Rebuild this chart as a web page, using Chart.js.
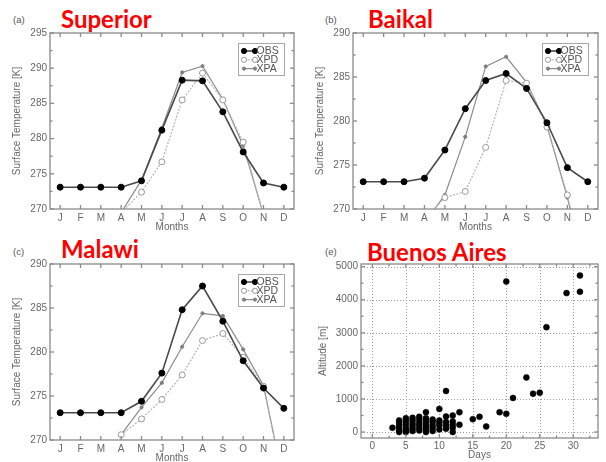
<!DOCTYPE html>
<html>
<head>
<meta charset="utf-8">
<script src="https://cdn.jsdelivr.net/npm/chart.js@4.4.1/dist/chart.umd.min.js"></script>
<style>
  html, body { margin: 0; padding: 0; background: #fff; }
  body { width: 606px; height: 462px; position: relative; overflow: hidden; }
  canvas { position: absolute; }
  .tag { position: absolute; font: 9.5px "Liberation Sans", Arial, sans-serif; color: #555; }
  .name { position: absolute; font: bold 24px Lato, "Open Sans", sans-serif; color: #f00; line-height: 24px; white-space: nowrap; }
</style>
</head>
<body>
<div class="tag" style="left:13px;top:14px">(a)</div>
<div class="tag" style="left:325px;top:14px">(b)</div>
<div class="tag" style="left:13px;top:246px">(c)</div>
<div class="tag" style="left:325px;top:246px">(e)</div>
<div class="name" style="left:61px;top:7px">Superior</div>
<div class="name" style="left:368px;top:7px">Baikal</div>
<div class="name" style="left:61px;top:237px">Malawi</div>
<div class="name" style="left:367px;top:240px">Buenos Aires</div>

<canvas id="cSup" width="303" height="233" style="left:0;top:0"></canvas>
<canvas id="cBai" width="303" height="233" style="left:303px;top:0"></canvas>
<canvas id="cMal" width="303" height="233" style="left:0;top:231px"></canvas>
<canvas id="cBA" width="303" height="231" style="left:303px;top:231px"></canvas>

<script>
// Month initials along the x axis
const months = ['J', 'F', 'M', 'A', 'M', 'J', 'J', 'A', 'S', 'O', 'N', 'D'];

// Monthly surface temperature [K]; null = below the plotted range
const superiorObs = [273.1, 273.1, 273.1, 273.1, 274.0, 281.2, 288.3, 288.2, 283.8, 278.1, 273.7, 273.1];
const superiorXpd = [null, null, null, 269.5, 272.4, 276.7, 285.5, 289.3, 285.5, 279.5, 269.2, null];
const superiorXpa = [null, null, null, 269.5, 274.1, 281.5, 289.4, 290.3, 285.6, 279.0, 269.2, null];

const baikalObs = [273.1, 273.1, 273.1, 273.5, 276.7, 281.4, 284.6, 285.4, 283.7, 279.8, 274.7, 273.1];
const baikalXpd = [null, null, null, 268.8, 271.3, 272.0, 277.0, 284.6, 284.3, 279.3, 271.6, 262.0];
const baikalXpa = [null, null, null, 268.4, 271.6, 278.2, 286.2, 287.3, 284.4, 279.5, 271.3, 262.0];

const malawiObs = [273.1, 273.1, 273.1, 273.1, 274.4, 277.6, 284.8, 287.5, 283.5, 279.0, 275.9, 273.6];
const malawiXpd = [null, null, null, 270.6, 272.4, 274.6, 277.4, 281.3, 282.1, 279.4, 276.1, 265.0];
const malawiXpa = [null, null, null, 270.6, 273.7, 276.5, 280.6, 284.4, 284.1, 280.3, 276.2, 265.0];

// Buenos Aires: day of observation and altitude [m]
const baDays = [3,
  4, 4, 4, 4, 4, 4,
  5, 5, 5, 5, 5, 5,
  6, 6, 6, 6, 6, 6,
  7, 7, 7, 7, 7, 7,
  8, 8, 8, 8, 8, 8, 8,
  9, 9, 9, 9, 9,
  10, 10, 10, 10, 10,
  11, 11, 11, 11, 11,
  12, 12, 12, 12, 12,
  13, 13, 15, 16, 17, 19, 20, 20, 21, 23, 24, 25, 26, 29, 31, 31];
const baAltitudes = [130,
  0, 60, 130, 200, 280, 350,
  0, 50, 120, 230, 330, 420,
  30, 100, 180, 260, 350, 430,
  50, 120, 200, 280, 380, 460,
  0, 80, 150, 240, 330, 420, 600,
  30, 120, 200, 300, 380,
  80, 200, 280, 350, 700,
  100, 200, 300, 470, 1240,
  0, 130, 220, 320, 500,
  220, 600, 390, 460, 170, 600, 550, 4550, 1030, 1650, 1160, 1190, 3170, 4200, 4240, 4730];

// Axis tick values
const tempTicksSup = [270, 275, 280, 285, 290, 295];
const tempTicks = [270, 275, 280, 285, 290];
const dayTicks = [0, 5, 10, 15, 20, 25, 30];
const altTicks = [0, 1000, 2000, 3000, 4000, 5000];

const TXT = '#666';
const FONT = '"Liberation Sans", Arial, sans-serif';

// Boxed frame with inward tick marks, optional dotted grid
const framePlugin = {
  id: 'frame',
  beforeDatasetsDraw(chart, args, o) {
    if (!o.grid) return;
    const { ctx, chartArea: a, scales: { x, y } } = chart;
    ctx.save();
    ctx.strokeStyle = '#9c9c9c';
    ctx.lineWidth = 1;
    ctx.setLineDash([1, 2]);
    x.ticks.forEach(t => {
      const px = Math.round(x.getPixelForValue(t.value)) + 0.5;
      ctx.beginPath(); ctx.moveTo(px, a.top); ctx.lineTo(px, a.bottom); ctx.stroke();
    });
    y.ticks.forEach(t => {
      const py = Math.round(y.getPixelForValue(t.value)) + 0.5;
      ctx.beginPath(); ctx.moveTo(a.left, py); ctx.lineTo(a.right, py); ctx.stroke();
    });
    ctx.restore();
  },
  afterDraw(chart, args, o) {
    const { ctx, chartArea: a, scales: { x, y } } = chart;
    ctx.save();
    ctx.strokeStyle = '#8a8a8a';
    ctx.lineWidth = 1.3;
    const seg = (x1, y1, x2, y2) => { ctx.beginPath(); ctx.moveTo(x1, y1); ctx.lineTo(x2, y2); ctx.stroke(); };
    // x ticks
    const xMaj = x.ticks.map(t => t.value);
    xMaj.forEach(v => {
      const px = x.getPixelForValue(v);
      seg(px, a.bottom, px, a.bottom - 4);
      seg(px, a.top, px, a.top + 4);
    });
    if (o.xMinor) {
      for (let v = Math.ceil(x.min / o.xMinor) * o.xMinor; v <= x.max; v += o.xMinor) {
        if (xMaj.includes(v)) continue;
        const px = x.getPixelForValue(v);
        seg(px, a.bottom, px, a.bottom - 2.5);
        seg(px, a.top, px, a.top + 2.5);
      }
    }
    // y ticks
    const yMaj = y.ticks.map(t => t.value);
    yMaj.forEach(v => {
      const py = y.getPixelForValue(v);
      seg(a.left, py, a.left + 4, py);
      seg(a.right, py, a.right - 4, py);
    });
    if (o.yMinor) {
      for (let v = Math.ceil(y.min / o.yMinor) * o.yMinor; v <= y.max; v += o.yMinor) {
        if (yMaj.includes(v)) continue;
        const py = y.getPixelForValue(v);
        seg(a.left, py, a.left + 2.5, py);
        seg(a.right, py, a.right - 2.5, py);
      }
    }
    ctx.strokeRect(a.left, a.top, a.right - a.left, a.bottom - a.top);
    ctx.restore();
  }
};

// Small boxed key in the upper right of the plot
const keyPlugin = {
  id: 'keyBox',
  afterDraw(chart, args, o) {
    if (!o.show) return;
    const { ctx, chartArea: a } = chart;
    const w = 46, h = 32;
    const bx = a.right - 10 - w, by = a.top + 10;
    ctx.save();
    ctx.fillStyle = '#fff';
    ctx.fillRect(bx, by, w, h);
    ctx.strokeStyle = '#a8a8a8';
    ctx.lineWidth = 1;
    ctx.strokeRect(bx + 0.5, by + 0.5, w, h);
    chart.data.datasets.forEach((ds, i) => {
      const cy = by + 8 + i * 8.8;
      const x1 = bx + 6, x2 = bx + 17;
      ctx.strokeStyle = ds.borderColor;
      ctx.lineWidth = ds.borderWidth;
      ctx.setLineDash(ds.borderDash || []);
      ctx.beginPath(); ctx.moveTo(x1, cy); ctx.lineTo(x2, cy); ctx.stroke();
      ctx.setLineDash([]);
      [x1, x2].forEach(px => {
        ctx.beginPath();
        ctx.arc(px, cy, Math.min(ds.pointRadius, 2.6), 0, Math.PI * 2);
        ctx.fillStyle = ds.pointBackgroundColor;
        ctx.fill();
        ctx.strokeStyle = ds.pointBorderColor;
        ctx.lineWidth = 1;
        ctx.stroke();
      });
      ctx.fillStyle = '#555';
      ctx.font = '10.5px ' + FONT;
      ctx.textBaseline = 'middle';
      ctx.fillText(ds.label, x2 + 1.5, cy + 0.5);
    });
    ctx.restore();
  }
};

function tempChart(id, obs, xpd, xpa, yMax, ticks) {
  return new Chart(document.getElementById(id), {
    type: 'line',
    data: {
      labels: months,
      datasets: [
        { label: 'OBS', data: obs, borderColor: '#4a4a4a', borderWidth: 1.6,
          pointRadius: 3, pointBackgroundColor: '#000', pointBorderColor: '#000', pointBorderWidth: 1 },
        { label: 'XPD', data: xpd, borderColor: '#b4b4b4', borderWidth: 1.2, borderDash: [2, 1.5],
          pointRadius: 3, pointBackgroundColor: '#fff', pointBorderColor: '#9a9a9a', pointBorderWidth: 1 },
        { label: 'XPA', data: xpa, borderColor: '#8c8c8c', borderWidth: 1.2,
          pointRadius: 1.6, pointBackgroundColor: '#808080', pointBorderColor: '#808080', pointBorderWidth: 1 }
      ]
    },
    options: {
      responsive: false, animation: false, devicePixelRatio: 1,
      layout: { padding: { left: 0, right: id === 'cBai' ? 8 : 9, top: 33, bottom: 0 } },
      elements: { line: { tension: 0 } },
      scales: {
        x: {
          type: 'category', offset: true,
          grid: { display: false, drawTicks: false }, border: { display: false },
          ticks: { color: TXT, font: { family: FONT, size: 10 }, padding: 3, autoSkip: false, maxRotation: 0 },
          title: { display: true, text: 'Months', color: TXT, font: { family: FONT, size: 10, lineHeight: 1 }, padding: { top: 0, bottom: 1 } },
          afterFit: s => { s.height = 24; }
        },
        y: {
          min: 270, max: yMax,
          grid: { display: false, drawTicks: false }, border: { display: false },
          afterBuildTicks: s => { s.ticks = ticks.map(v => ({ value: v })); },
          ticks: { color: TXT, font: { family: FONT, size: 10 }, padding: 3, callback: v => String(v) },
          title: { display: true, text: 'Surface Temperature [K]', color: TXT, font: { family: FONT, size: 10, lineHeight: 1 }, padding: { top: 12, bottom: 0 } },
          afterFit: s => { s.width = 50; }
        }
      },
      plugins: {
        legend: { display: false }, tooltip: { enabled: false },
        frame: { yMinor: 2.5 },
        keyBox: { show: true }
      }
    },
    plugins: [framePlugin, keyPlugin]
  });
}

tempChart('cSup', superiorObs, superiorXpd, superiorXpa, 295, tempTicksSup);
tempChart('cBai', baikalObs, baikalXpd, baikalXpa, 290, tempTicks);
tempChart('cMal', malawiObs, malawiXpd, malawiXpa, 290, tempTicks);

new Chart(document.getElementById('cBA'), {
  type: 'scatter',
  data: {
    datasets: [{
      label: 'Altitude',
      data: baDays.map((d, i) => ({ x: d, y: baAltitudes[i] })),
      pointRadius: 3, pointBackgroundColor: '#000', pointBorderColor: '#000', pointBorderWidth: 0.5
    }]
  },
  options: {
    responsive: false, animation: false, devicePixelRatio: 1,
    layout: { padding: { left: 0, right: 8, top: 33, bottom: 0 } },
    scales: {
      x: {
        type: 'linear', min: -1.7, max: 33.7,
        grid: { display: false, drawTicks: false }, border: { display: false },
        afterBuildTicks: s => { s.ticks = dayTicks.map(v => ({ value: v })); },
        ticks: { color: TXT, font: { family: FONT, size: 10 }, padding: 2, maxRotation: 0, callback: v => String(v) },
        title: { display: true, text: 'Days', color: TXT, font: { family: FONT, size: 10, lineHeight: 1 }, padding: { top: 0, bottom: 2 } },
        afterFit: s => { s.height = 24; }
      },
      y: {
        min: -180, max: 5080,
        grid: { display: false, drawTicks: false }, border: { display: false },
        afterBuildTicks: s => { s.ticks = altTicks.map(v => ({ value: v })); },
        ticks: { color: TXT, font: { family: FONT, size: 10 }, padding: 3, callback: v => String(v) },
        title: { display: true, text: 'Altitude [m]', color: TXT, font: { family: FONT, size: 10, lineHeight: 1 }, padding: { top: 15, bottom: 0 } },
        afterFit: s => { s.width = 58; }
      }
    },
    plugins: {
      legend: { display: false }, tooltip: { enabled: false },
      frame: { grid: true, xMinor: 2.5, yMinor: 500 }
    }
  },
  plugins: [framePlugin]
});
</script>
</body>
</html>
